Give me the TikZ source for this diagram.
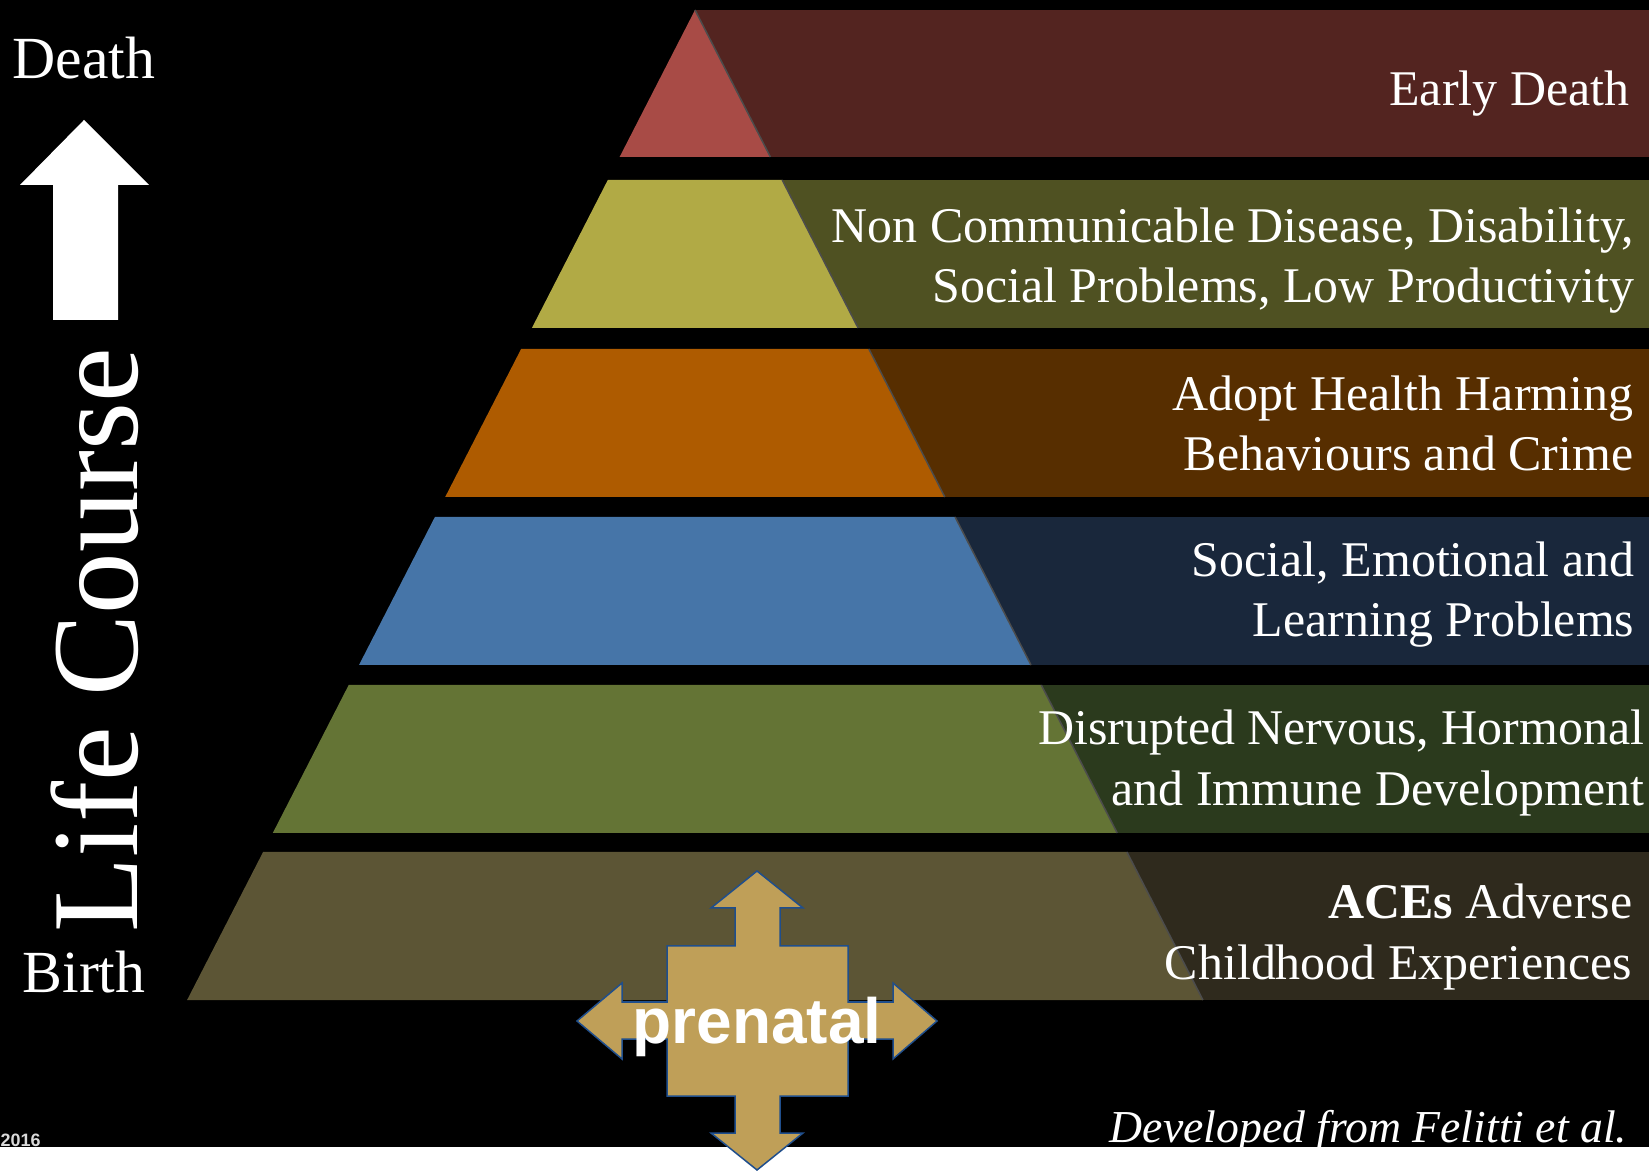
\documentclass[tikz,border=0pt]{standalone}
\usepackage{xcolor}
\usepackage{fontspec}
\setmainfont{Liberation Serif}
\setsansfont{Liberation Sans}
\usepackage{tikz}

\definecolor{deathlight}{HTML}{A84B46}
\definecolor{deathdark}{HTML}{532420}
\definecolor{diseaselight}{HTML}{B1AA45}
\definecolor{diseasedark}{HTML}{4F5122}
\definecolor{harmlight}{HTML}{AE5B00}
\definecolor{harmdark}{HTML}{572E00}
\definecolor{sociallight}{HTML}{4675A8}
\definecolor{socialdark}{HTML}{19273B}
\definecolor{nervouslight}{HTML}{647435}
\definecolor{nervousdark}{HTML}{2B3A1D}
\definecolor{aceslight}{HTML}{5C5535}
\definecolor{acesdark}{HTML}{2F2A1D}
\definecolor{prenatalfill}{HTML}{BF9F58}
\definecolor{prenataledge}{HTML}{1F4E8C}

\begin{document}
\begin{tikzpicture}[x=0.01cm, y=-0.01cm,
            bandtext/.style={anchor=east, align=right, inner sep=0pt, text=white, font=\fontsize{14.2}{17.1}\selectfont},
            sidetext/.style={anchor=base, inner sep=0pt, text=white, font=\fontsize{17}{20}\selectfont},
            slant/.style={black!70, line width=0.015cm}]
            \useasboundingbox (0,0) rectangle (1649,1171);
            \fill[white] (0,0) rectangle (1649,1171);
            \fill[black] (0,0) rectangle (1649,1147);

            \fill[deathdark] (695,10) rectangle (1649,157);
            \fill[deathlight] (695,10) -- (770.4,157) -- (619.6,157) -- cycle;
            \draw[slant] (695,10) -- (770.4,157);
            \fill[diseasedark] (695,180) rectangle (1649,328);
            \fill[diseaselight] (607.8,180) -- (782.2,180) -- (858.1,328) -- (531.9,328) -- cycle;
            \draw[slant] (782.2,180) -- (858.1,328);
            \fill[harmdark] (695,349) rectangle (1649,497);
            \fill[harmlight] (521.1,349) -- (868.9,349) -- (944.8,497) -- (445.2,497) -- cycle;
            \draw[slant] (868.9,349) -- (944.8,497);
            \fill[socialdark] (695,517) rectangle (1649,665);
            \fill[sociallight] (434.9,517) -- (955.1,517) -- (1031,665) -- (359,665) -- cycle;
            \draw[slant] (955.1,517) -- (1031,665);
            \fill[nervousdark] (695,685) rectangle (1649,833);
            \fill[nervouslight] (348.7,685) -- (1041.3,685) -- (1117.2,833) -- (272.8,833) -- cycle;
            \draw[slant] (1041.3,685) -- (1117.2,833);
            \fill[acesdark] (695,852) rectangle (1649,1000);
            \fill[aceslight] (263.1,852) -- (1126.9,852) -- (1202.9,1000) -- (187.1,1000) -- cycle;
            \draw[slant] (1126.9,852) -- (1202.9,1000);

            \node[bandtext] (early) at (1630,94) {Early Death};
            \node[bandtext] (disease) at (1635,261) {Non Communicable Disease, Disability,\\Social Problems, Low Productivity};
            \node[bandtext] (harming) at (1634,423) {Adopt Health Harming\\Behaviours and Crime};
            \node[bandtext] (learning) at (1635,595) {Social, Emotional and\\Learning Problems};
            \node[bandtext] (nervous) at (1645,763) {Disrupted Nervous, Hormonal\\and Immune Development};
            \node[bandtext] (aces) at (1633,937) {\textbf{ACEs} Adverse\\Childhood Experiences};

            \node[sidetext] (death) at (84,79) {Death};
            \node[sidetext] (birth) at (84,992) {Birth};
            \node[anchor=base, inner sep=0pt, text=white, rotate=90, font=\fontsize{35}{40}\selectfont] (course) at (137,640) {Life Course};
            \fill[white] (84,120) -- (149,185) -- (118,185) -- (118,320) -- (53,320) -- (53,185) -- (20,185) -- cycle;

            \filldraw[fill=prenatalfill, draw=prenataledge, line width=0.015cm]
                (757,871) -- (803,908) -- (780,908) -- (780,946) -- (848,946) -- (848,1002) -- (893,1002) -- (893,983)
                -- (937,1021) -- (893,1059) -- (893,1039) -- (848,1039) -- (848,1096) -- (780,1096) -- (780,1133)
                -- (803,1133) -- (757,1170) -- (711,1133) -- (735,1133) -- (735,1096) -- (667,1096) -- (667,1039)
                -- (622,1039) -- (622,1059) -- (577,1021) -- (622,983) -- (622,1002) -- (667,1002) -- (667,946)
                -- (735,946) -- (735,908) -- (711,908) -- cycle;
            \node[anchor=base, inner sep=0pt, text=white, font=\sffamily\bfseries\fontsize{18.2}{20}\selectfont] (prenatal) at (757,1043) {prenatal};

            \node[anchor=base east, inner sep=0pt, text=white, font=\itshape\fontsize{13}{15}\selectfont] (source) at (1628,1142) {Developed from Felitti et al.};
            \node[anchor=base west, inner sep=0pt, text=white!85!black, font=\sffamily\bfseries\fontsize{5.1}{6}\selectfont] (year) at (0,1146) {2016};
        \end{tikzpicture}
\end{document}
